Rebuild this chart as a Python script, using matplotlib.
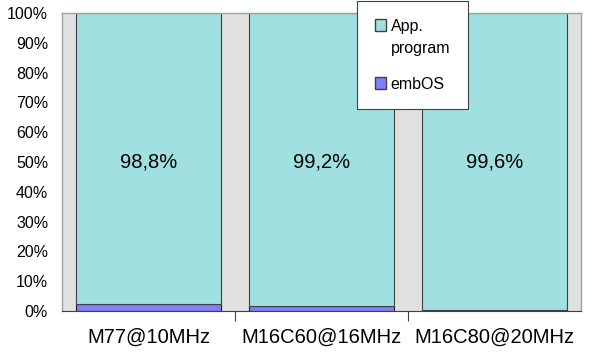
import matplotlib
matplotlib.use("Agg")
import matplotlib.pyplot as plt
from matplotlib.patches import Patch, Rectangle
from matplotlib.legend_handler import HandlerPatch
import numpy as np

categories = ["M77@10MHz", "M16C60@16MHz", "M16C80@20MHz"]
embos = [2.2, 1.6, 0.4]
app = [100 - v for v in embos]
labels = ["98,8%", "99,2%", "99,6%"]
yticks = list(range(0, 101, 10))

plt.rcParams['font.family'] = ['Liberation Sans', 'DejaVu Sans']

fig = plt.figure(figsize=(6, 3.53), dpi=100)
ax = fig.add_axes([62/600, 1 - 311/353, (581-62)/600, (311-13)/353])
ax.set_facecolor('#e0e0e0')
x = np.arange(len(categories))
w = 0.84
ax.bar(x, embos, w, color='#8080ff', edgecolor='#202020', linewidth=0.8, zorder=2)
ax.bar(x, app, w, bottom=embos, color='#a0e0e0', edgecolor='#404040', linewidth=0.8, zorder=2)
for xi, lab in zip(x, labels):
    ax.text(xi, 50, lab, ha='center', va='center', fontsize=14.5, color='black', zorder=3)

ax.set_xlim(-0.5, len(categories) - 0.5)
ax.set_ylim(0, 100)
ax.set_yticks(yticks)
ax.set_yticklabels([f"{v}%" for v in yticks], fontsize=11.5)
ax.tick_params(axis='y', length=0, pad=10)
ax.set_xticks(x)
ax.set_xticklabels(categories, fontsize=14.5)
ax.tick_params(axis='x', length=0, pad=12)
ax.set_xticks([0.5, 1.5], minor=True)
ax.tick_params(axis='x', which='minor', length=7, color='#404040', width=0.8)
for s in ['top', 'right', 'left']:
    ax.spines[s].set_color('#a0a0a0')
    ax.spines[s].set_linewidth(1)
ax.spines['bottom'].set_color('#404040')


def shifted(offset):
    def f(legend, orig_handle, xdescent, ydescent, width, height, fontsize):
        return Rectangle((-xdescent, -ydescent + offset), width, height)
    return HandlerPatch(patch_func=f)


h_app = Patch(facecolor='#a0e0e0', edgecolor='#404040', label='App.\nprogram')
h_emb = Patch(facecolor='#8080ff', edgecolor='#404040', label='embOS')
leg = fig.legend(handles=[h_app, h_emb], loc='upper left', bbox_to_anchor=(357/600, 1 - 1/353),
                 fontsize=11.5, frameon=True, fancybox=False, framealpha=1,
                 handlelength=0.7, handleheight=0.7,
                 handletextpad=0.3, labelspacing=1.3, borderpad=1.1, borderaxespad=0,
                 handler_map={h_app: shifted(9)})
for t in leg.get_texts():
    t.set_linespacing(1.6)
leg.get_frame().set_edgecolor('#404040')
leg.get_frame().set_linewidth(0.8)
leg.set_zorder(5)

fig.savefig('out.png', dpi=100)
